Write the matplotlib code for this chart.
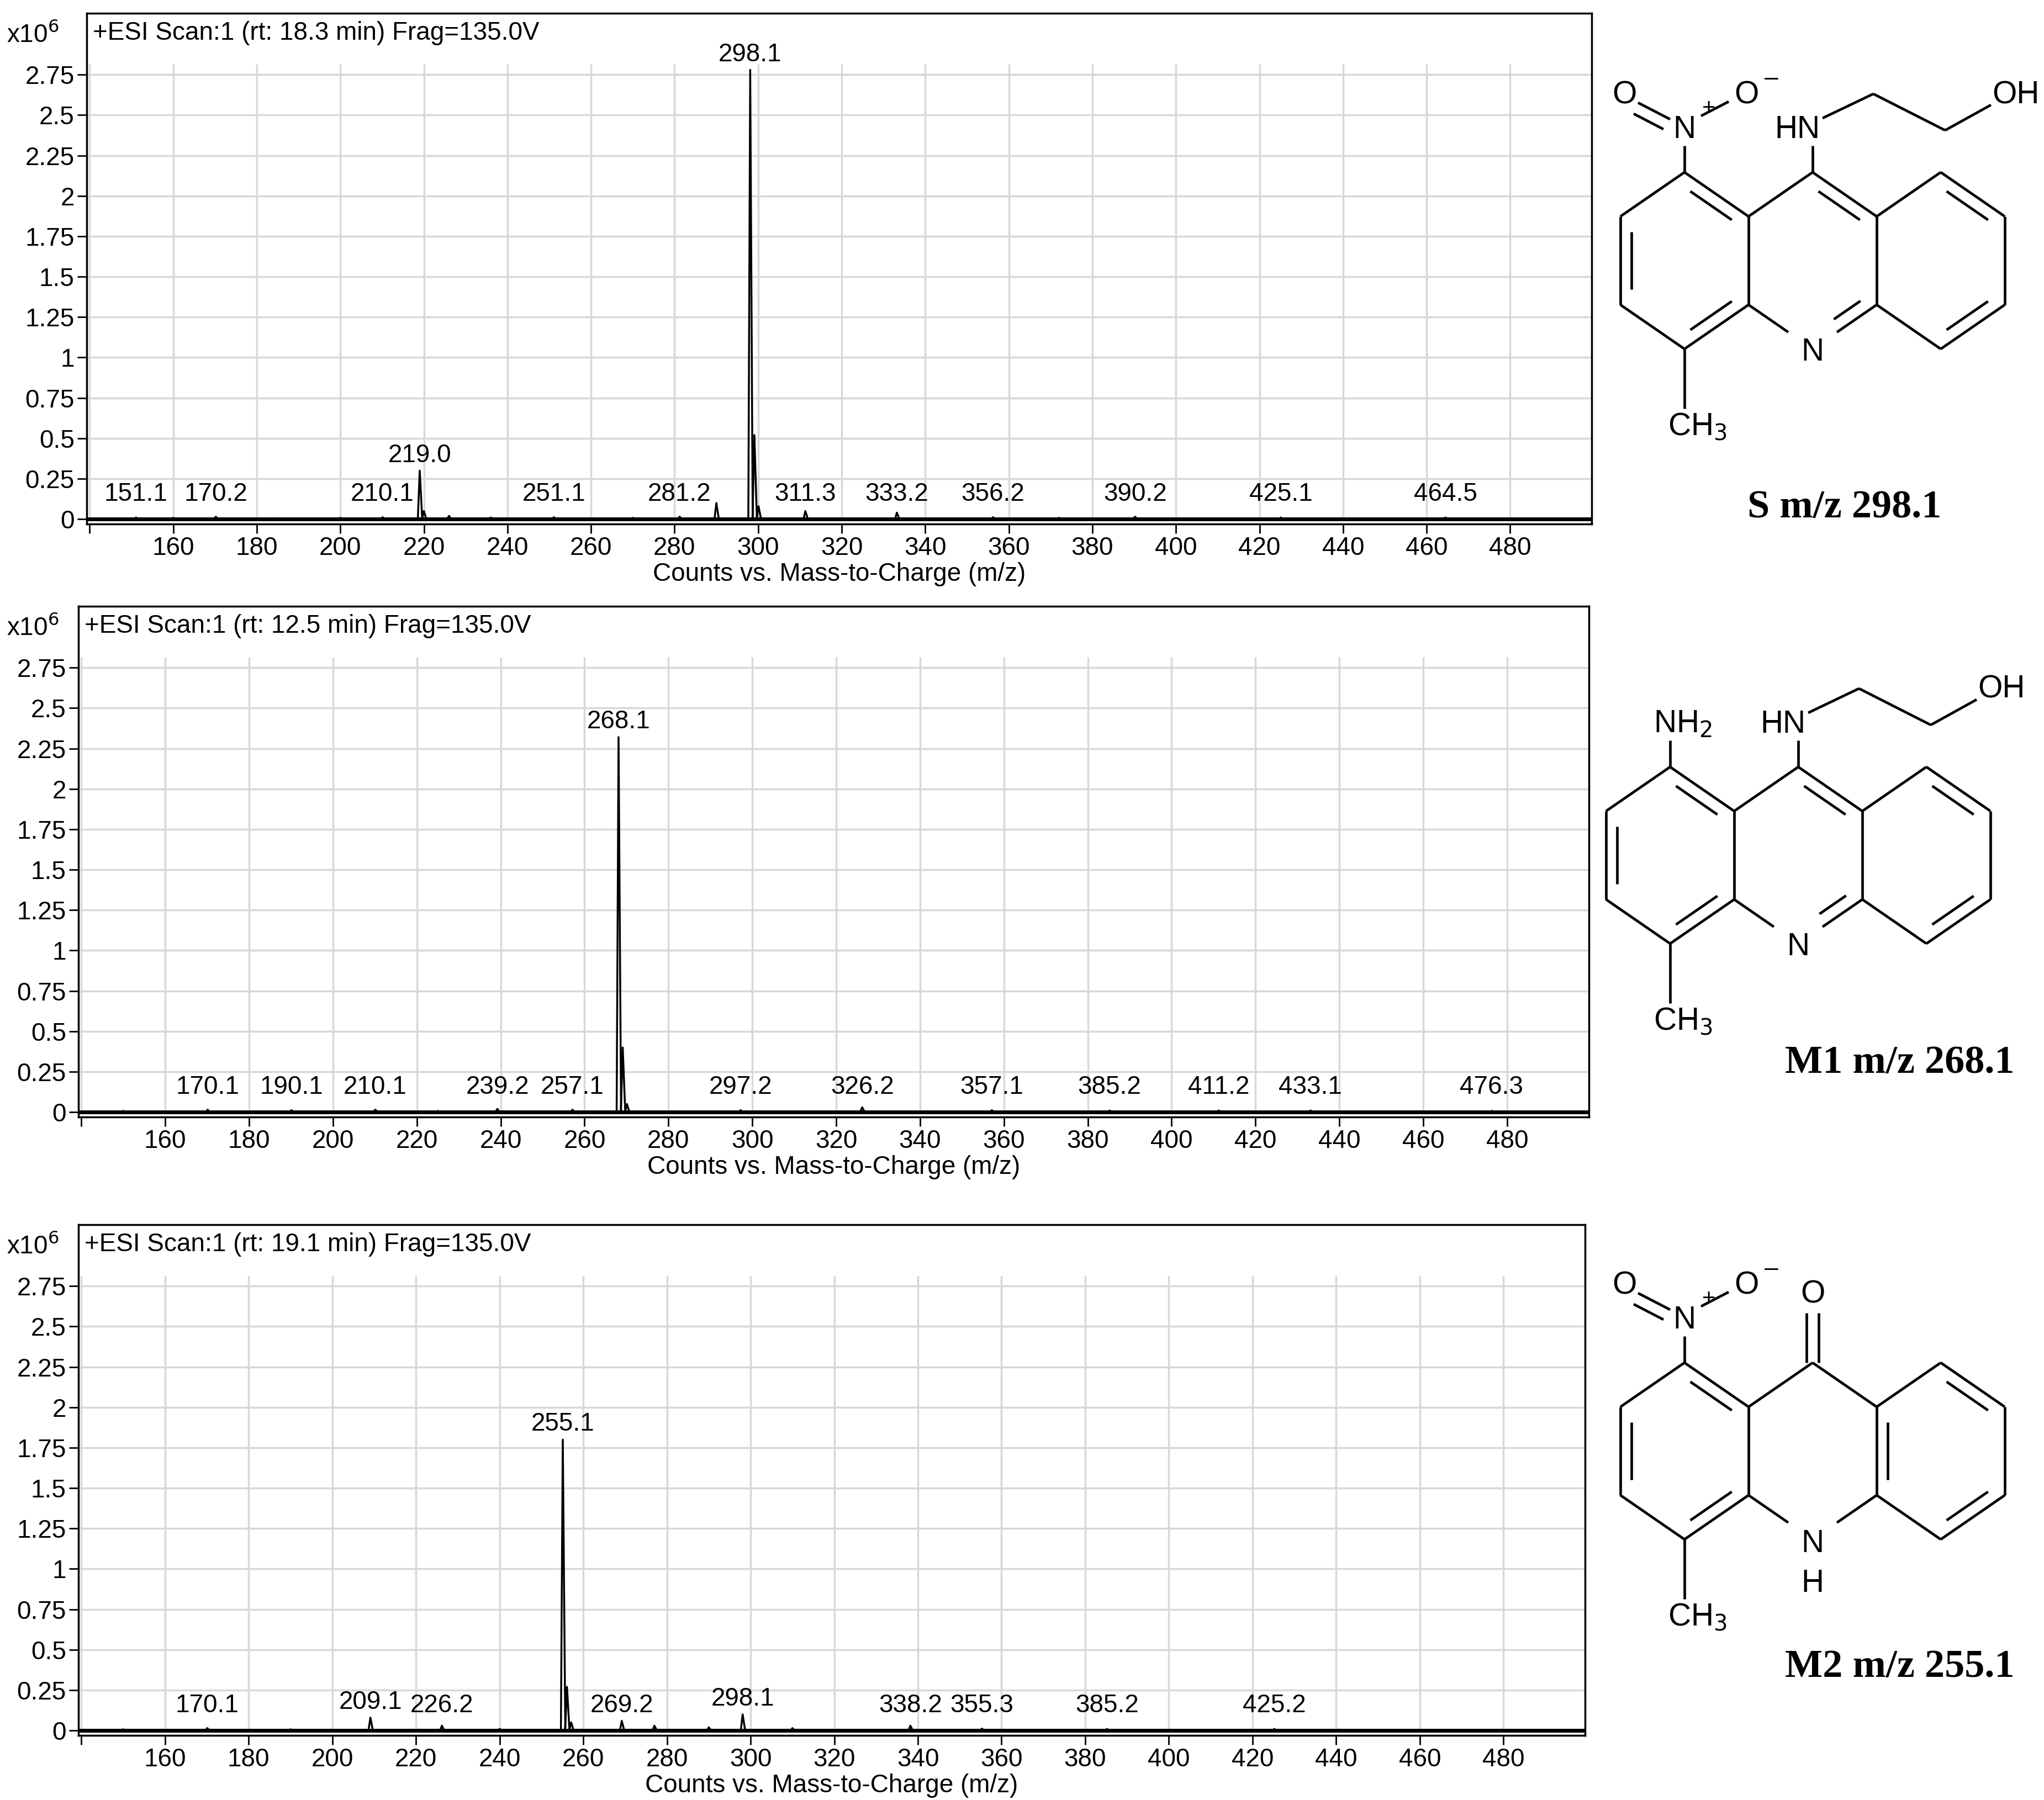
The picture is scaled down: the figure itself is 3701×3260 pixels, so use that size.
import matplotlib
matplotlib.use("Agg")
import matplotlib.pyplot as plt
import numpy as np

W, H = 3701, 3260
FONT = ['Liberation Sans Narrow', 'Liberation Sans', 'DejaVu Sans']

titles = ["+ESI Scan:1 (rt: 18.3 min) Frag=135.0V",
          "+ESI Scan:1 (rt: 12.5 min) Frag=135.0V",
          "+ESI Scan:1 (rt: 19.1 min) Frag=135.0V"]

# peaks: m/z, intensity (x10^6)
s_mz  = [151.1, 160, 170.2, 185, 200, 210.1, 219.0, 220, 226, 236, 251.1, 270, 281.2, 290.0, 298.1, 299.1, 300.1, 311.3, 333.2, 356.2, 372, 390.2, 425.1, 464.5]
s_int = [0.01, 0.008, 0.015, 0.006, 0.008, 0.012, 0.30, 0.05, 0.02, 0.01, 0.012, 0.008, 0.015, 0.10, 2.78, 0.52, 0.08, 0.05, 0.04, 0.012, 0.008, 0.015, 0.01, 0.01]
s_lab = ["151.1", "170.2", "210.1", "219.0", "251.1", "281.2", "298.1", "311.3", "333.2", "356.2", "390.2", "425.1", "464.5"]

m1_mz  = [150, 170.1, 190.1, 210.1, 225, 239.2, 257.1, 268.1, 269.1, 270.1, 297.2, 326.2, 357.1, 385.2, 411.2, 433.1, 476.3]
m1_int = [0.008, 0.015, 0.012, 0.015, 0.008, 0.02, 0.015, 2.32, 0.40, 0.05, 0.012, 0.03, 0.012, 0.01, 0.01, 0.01, 0.008]
m1_lab = ["170.1", "190.1", "210.1", "239.2", "257.1", "268.1", "297.2", "326.2", "357.1", "385.2", "411.2", "433.1", "476.3"]

m2_mz  = [150, 170.1, 190, 209.1, 226.2, 240, 255.1, 256.1, 257.1, 269.2, 277.0, 290, 298.1, 310, 338.2, 355.3, 385.2, 425.2]
m2_int = [0.008, 0.015, 0.008, 0.08, 0.03, 0.01, 1.80, 0.27, 0.05, 0.06, 0.03, 0.02, 0.10, 0.015, 0.03, 0.012, 0.01, 0.01]
m2_lab = ["170.1", "209.1", "226.2", "255.1", "269.2", "298.1", "338.2", "355.3", "385.2", "425.2"]

boxes = [(157, 2882, 24, 949), (142, 2877, 1098, 2023), (142, 2870, 2218, 3143)]
data = [(s_mz, s_int, s_lab), (m1_mz, m1_int, m1_lab), (m2_mz, m2_int, m2_lab)]

fig = plt.figure(figsize=(W/100, H/100), dpi=100)
FS = 33

xt = np.arange(140, 481, 20)
yt = np.arange(0, 2.76, 0.25)
def yfmt(v):
    return ('%.2f' % v).rstrip('0').rstrip('.')

for (l, r, t, b), (mz, it, lab), ttl in zip(boxes, data, titles):
    ax = fig.add_axes([l/W, 1-b/H, (r-l)/W, (b-t)/H])
    ax.set_xlim(139.3, 499.5)
    ax.set_ylim(-0.03, 3.13)
    for v in xt:
        ax.plot([v, v], [0, 2.81], color='#d8d8d8', lw=2.5, zorder=0)
    for v in yt[1:]:
        ax.axhline(v, color='#d8d8d8', lw=2.5, zorder=0)
    xs, ys = [139.3], [0.0]
    for m, h in sorted(zip(mz, it)):
        xs += [m-0.45, m, m+0.6]
        ys += [0, h, 0]
    xs.append(499.5); ys.append(0)
    ax.plot(xs, ys, color='black', lw=2.5, zorder=3)
    ax.axhline(0, color='black', lw=5, zorder=4)
    md = dict(zip(mz, it))
    for s in lab:
        m = float(s)
        h = md.get(m, 0.01)
        ax.text(m, max(h, 0.06) + 0.02, s, ha='center', va='bottom', fontsize=FS, family=FONT, zorder=5)
    ax.set_xticks(xt)
    ax.set_xticklabels([''] + [str(v) for v in xt[1:]], family=FONT, fontsize=FS)
    ax.set_yticks(yt)
    ax.set_yticklabels([yfmt(v) for v in yt], family=FONT, fontsize=FS)
    ax.tick_params(length=12, width=2, direction='out', pad=4)
    for sp in ax.spines.values():
        sp.set_linewidth(2.5)
    ax.set_xlabel("Counts vs. Mass-to-Charge (m/z)", family=FONT, fontsize=FS, labelpad=2)
    ax.text(0.004, 0.985, ttl, transform=ax.transAxes, ha='left', va='top', fontsize=FS, family=FONT)
    fig.text(12/W, 1-(t+62)/H, r"x10$^{6}$", fontsize=FS, family=FONT, ha='left', va='bottom')

# ---------- structures (overlay in pixel coordinates) ----------
ov = fig.add_axes([0, 0, 1, 1])
ov.set_xlim(0, W); ov.set_ylim(H, 0); ov.axis('off')
LW = 3.4
AF = ['Liberation Sans', 'DejaVu Sans']
AS = 41

def line(p, q, ox, oy):
    ov.plot([p[0]+ox, q[0]+ox], [p[1]+oy, q[1]+oy], color='black', lw=LW, solid_capstyle='butt')

def txt(x, y, s, ox, oy, size=AS, **kw):
    ov.text(x+ox, y+oy, s, fontsize=size, family=AF, ha='center', va='center', **kw)

HW, HE, DP = 116, 80, 160
def hexv(cx, cy):
    return [(cx, cy-DP), (cx+HW, cy-HE), (cx+HW, cy+HE), (cx, cy+DP), (cx-HW, cy+HE), (cx-HW, cy-HE)]

def inner(p, q, c, ox, oy, f=0.17, sh=0.22):
    a = np.array(p, float); b = np.array(q, float); c = np.array(c, float)
    a2 = a + (c-a)*f; b2 = b + (c-b)*f
    d = b2 - a2
    line(a2 + d*sh*0.5, b2 - d*sh*0.5, ox, oy)

def structure(kind, ox, oy):
    cs = [(0, 0), (2*HW, 0), (4*HW, 0)]
    L, M, R = [hexv(*c) for c in cs]
    for i in range(6):
        line(L[i], L[(i+1) % 6], ox, oy)
        line(R[i], R[(i+1) % 6], ox, oy)
    N = M[3]
    line(M[5], M[0], ox, oy)
    line(M[0], M[1], ox, oy)
    for a in (M[2], M[4]):
        p = np.array(a, float); q = np.array(N, float)
        line(p, p + (q-p)*0.62, ox, oy)
    inner(L[0], L[1], cs[0], ox, oy); inner(L[4], L[5], cs[0], ox, oy); inner(L[2], L[3], cs[0], ox, oy)
    if kind != 'M2':
        inner(M[0], M[1], cs[1], ox, oy)
        p = np.array(M[2], float); q = np.array(N, float); c = np.array(cs[1], float)
        a2 = p + (c-p)*0.17; b2 = q + (c-q)*0.17
        line(a2 + (b2-a2)*0.1, a2 + (b2-a2)*0.6, ox, oy)
    else:
        inner(R[4], R[5], cs[2], ox, oy)
    inner(R[0], R[1], cs[2], ox, oy); inner(R[2], R[3], cs[2], ox, oy)
    if kind == 'M2':
        txt(2*HW, 168, 'N', ox, oy)
        txt(2*HW, 240, 'H', ox, oy)
    else:
        txt(2*HW, 166, 'N', ox, oy)
    # methyl
    line(L[3], (0, 268), ox, oy)
    ov.text(-30+ox, 302+oy, r'CH$_3$', fontsize=AS, family=AF, ha='left', va='center')
    # position 1 substituent
    line(L[0], (0, -208), ox, oy)
    if kind in ('S', 'M2'):
        txt(0, -237, 'N', ox, oy)
        txt(-109, -300, 'O', ox, oy)
        txt(112, -300, 'O', ox, oy)
        txt(44, -275, '+', ox, oy, size=30)
        txt(157, -330, '\u2013', ox, oy, size=32)
        line((-84, -286), (-26, -256), ox, oy)
        line((-92, -266), (-38, -238), ox, oy)
        line((30, -262), (80, -288), ox, oy)
    else:
        ov.text(-30+ox, -237+oy, r'NH$_2$', fontsize=AS, family=AF, ha='left', va='center')
    # position 9 substituent
    if kind == 'M2':
        line((2*HW-11, -160), (2*HW-11, -250), ox, oy)
        line((2*HW+11, -160), (2*HW+11, -250), ox, oy)
        txt(2*HW, -283, 'O', ox, oy)
    else:
        line(M[0], (2*HW, -208), ox, oy)
        txt(204, -237, 'HN', ox, oy)
        line((250, -258), (342, -302), ox, oy)
        line((342, -302), (472, -236), ox, oy)
        line((472, -236), (555, -282), ox, oy)
        txt(600, -300, 'OH', ox, oy)

structure('S', 3050, 472)
structure('M1', 3024, 1549)
structure('M2', 3050, 2628)

CF = ['Liberation Serif', 'DejaVu Serif']
captions = ["S m/z 298.1", "M1 m/z 268.1", "M2 m/z 255.1"]
cap_pos = [(3340, 920), (3440, 1926), (3440, 3020)]
for s, (x, y) in zip(captions, cap_pos):
    ov.text(x, y, s, fontsize=52, family=CF, weight='bold', ha='center', va='center')

fig.savefig('out.png', dpi=100)
